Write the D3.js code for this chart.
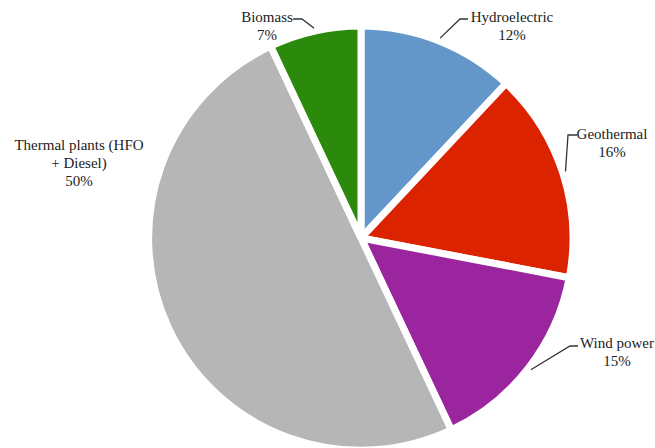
<!DOCTYPE html>
<html>
<head>
<meta charset="utf-8">
<script src="https://cdn.jsdelivr.net/npm/d3@7"></script>
<style>
  html, body { margin: 0; padding: 0; background: #fff; }
  svg { display: block; }
</style>
</head>
<body>
<svg id="chart" width="655" height="448"></svg>
<script>
// Electricity generation mix, share by source (%)
const sources = ["Hydroelectric", "Geothermal", "Wind power", "Thermal plants (HFO + Diesel)", "Biomass"];
const shares = [12, 16, 15, 50, 7];
const colors = ["#6397ca", "#dc2300", "#9b259f", "#b6b6b6", "#2b8a0c"];

// Label text lines for each source
const labelLines = [
  ["Hydroelectric", "12%"],
  ["Geothermal", "16%"],
  ["Wind power", "15%"],
  ["Thermal plants (HFO", "+ Diesel)", "50%"],
  ["Biomass", "7%"]
];

// Label placement: text centre and first-line y; optional leader elbow
const labelLayout = [
  { x: 512, y: 17, elbow: [[468, 19], [460, 19]] },
  { x: 612, y: 134, elbow: [[577, 135], [568, 135]] },
  { x: 617, y: 343, elbow: [[578, 346], [570, 346]] },
  { x: 79, y: 145, elbow: null },
  { x: 267, y: 17, elbow: [[293, 19], [302, 19]] }
];

const width = 655, height = 448;
const cx = 361, cy = 238, radius = 212;
const lineGap = 18;
const serif = "'Liberation Serif', 'Times New Roman', Tinos, 'DejaVu Serif', serif";

const svg = d3.select("#chart");
const g = svg.append("g").attr("transform", `translate(${cx},${cy})`);

const pie = d3.pie().sort(null).value(d => d).startAngle(0).endAngle(2 * Math.PI);
const arcs = pie(shares);
const arc = d3.arc().innerRadius(0).outerRadius(radius);

g.selectAll("path.slice")
  .data(arcs)
  .join("path")
  .attr("class", "slice")
  .attr("d", arc)
  .attr("fill", (d, i) => colors[i])
  .attr("stroke", "#fff")
  .attr("stroke-width", 7)
  .attr("stroke-linejoin", "miter");

// Leader lines: from the label elbow to the slice edge along its bisector
arcs.forEach((d, i) => {
  const lay = labelLayout[i];
  if (!lay.elbow) return;
  const mid = (d.startAngle + d.endAngle) / 2;
  const r = radius + 3;
  const end = [cx + r * Math.sin(mid), cy - r * Math.cos(mid)];
  const pts = lay.elbow.concat([end]);
  svg.append("path")
    .attr("d", d3.line()(pts))
    .attr("fill", "none")
    .attr("stroke", "#333")
    .attr("stroke-width", 1.3);
});

// Labels
labelLines.forEach((lines, i) => {
  const lay = labelLayout[i];
  const t = svg.append("text")
    .attr("text-anchor", "middle")
    .attr("font-family", serif)
    .attr("font-size", 15)
    .attr("fill", "#222");
  lines.forEach((s, k) => {
    t.append("tspan")
      .attr("x", lay.x)
      .attr("y", lay.y + k * lineGap + 5)
      .text(s);
  });
});
</script>
</body>
</html>
